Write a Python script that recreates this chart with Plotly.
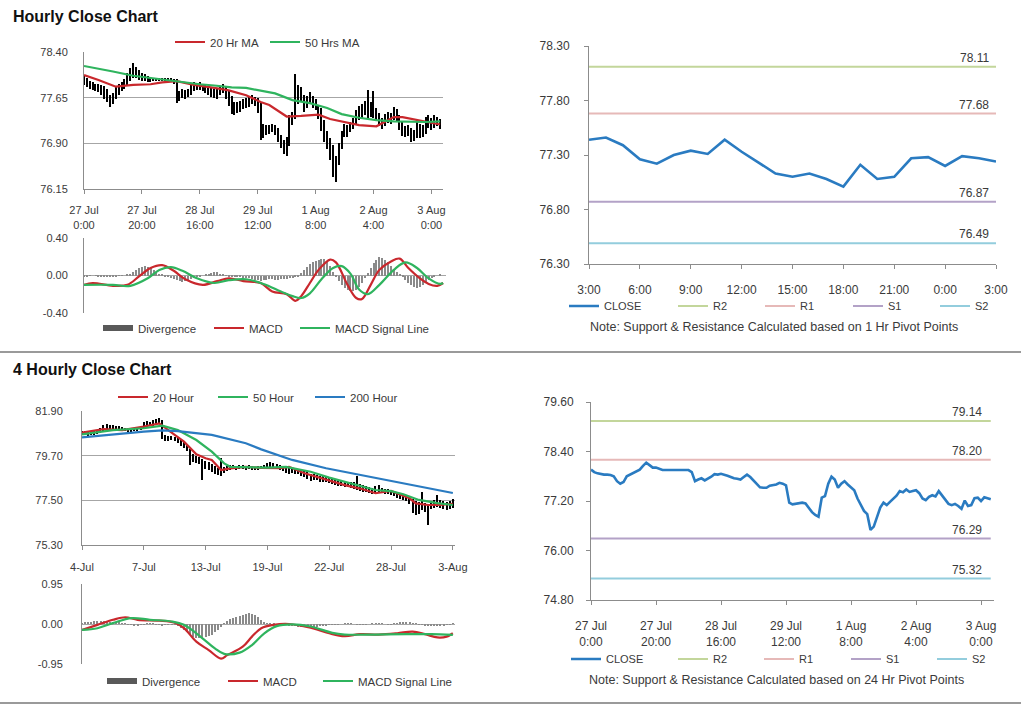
import plotly.graph_objects as go

W, H = 1024, 705
FONT = "Liberation Sans, Arial, sans-serif"

# ------------------------------------------------------------------ data
# hourly bars (27 Jul 0:00 ... 3 Aug 3:00), 124 points
hour_idx = list(range(124))
hourly_close = [
    77.96, 77.90, 77.87, 77.85, 77.84, 77.84, 77.83, 77.80, 77.68, 77.62,
    77.66, 77.80, 77.84, 77.86, 77.91, 77.96, 78.05, 78.13, 78.07, 78.01,
    78.01, 77.98, 77.95, 77.95, 77.95, 77.95, 77.95, 77.95, 77.95, 77.95,
    77.95, 77.90, 77.68, 77.72, 77.75, 77.70, 77.74, 77.79, 77.85, 77.84,
    77.86, 77.84, 77.81, 77.78, 77.75, 77.74, 77.72, 77.78, 77.84, 77.78,
    77.70, 77.62, 77.53, 77.52, 77.52, 77.57, 77.59, 77.60, 77.64, 77.62,
    77.58, 77.16, 77.12, 77.13, 77.14, 77.16, 77.14, 77.02, 76.93, 76.86,
    76.82, 77.28, 77.32, 77.62, 77.79, 77.72, 77.52, 77.62, 77.68, 77.60,
    77.54, 77.46, 77.26, 77.10, 76.96, 76.88, 76.50, 76.58, 76.82, 77.04,
    77.16, 77.10, 77.18, 77.26, 77.33, 77.44, 77.41, 77.48, 77.42, 77.44,
    77.46, 77.39, 77.26, 77.22, 77.30, 77.34, 77.31, 77.44, 77.33, 77.23,
    77.13, 77.10, 77.13, 77.08, 77.01, 77.21, 77.08, 77.10, 77.27, 77.28,
    77.20, 77.29, 77.27, 77.24]
hourly_low = [
    77.85, 77.82, 77.80, 77.78, 77.76, 77.75, 77.70, 77.62, 77.58, 77.50,
    77.55, 77.62, 77.70, 77.76, 77.80, 77.86, 77.92, 77.98, 77.98, 77.94,
    77.93, 77.92, 77.90, 77.91, 77.92, 77.92, 77.92, 77.92, 77.92, 77.92,
    77.92, 77.88, 77.56, 77.60, 77.64, 77.62, 77.66, 77.70, 77.76, 77.78,
    77.78, 77.76, 77.72, 77.70, 77.66, 77.64, 77.62, 77.70, 77.72, 77.62,
    77.52, 77.38, 77.36, 77.40, 77.42, 77.46, 77.48, 77.50, 77.54, 77.52,
    77.40, 76.95, 76.98, 77.04, 77.06, 77.08, 77.04, 76.92, 76.82, 76.72,
    76.70, 76.85, 77.20, 77.30, 77.55, 77.58, 77.42, 77.48, 77.55, 77.48,
    77.44, 77.30, 77.10, 76.92, 76.80, 76.62, 76.35, 76.27, 76.55, 76.80,
    77.00, 77.00, 77.08, 77.14, 77.20, 77.28, 77.30, 77.36, 77.30, 77.34,
    77.32, 77.26, 77.18, 77.14, 77.18, 77.24, 77.22, 77.28, 77.26, 77.12,
    77.02, 77.00, 77.02, 76.92, 76.94, 76.98, 76.98, 77.00, 77.06, 77.16,
    77.12, 77.16, 77.18, 77.14]
hourly_high = [
    78.00, 77.97, 77.92, 77.90, 77.88, 77.88, 77.86, 77.84, 77.80, 77.70,
    77.72, 77.84, 77.88, 77.90, 77.96, 78.05, 78.14, 78.22, 78.16, 78.10,
    78.06, 78.04, 78.00, 77.98, 77.98, 77.98, 77.98, 77.98, 77.98, 77.98,
    77.98, 77.96, 77.95, 77.76, 77.80, 77.78, 77.80, 77.88, 77.90, 77.88,
    77.90, 77.88, 77.86, 77.84, 77.82, 77.80, 77.80, 77.84, 77.88, 77.84,
    77.76, 77.68, 77.58, 77.58, 77.60, 77.62, 77.64, 77.68, 77.70, 77.66,
    77.64, 77.58, 77.22, 77.20, 77.20, 77.22, 77.20, 77.16, 77.04, 76.96,
    77.00, 77.36, 77.42, 78.04, 77.86, 77.82, 77.70, 77.68, 77.74, 77.68,
    77.62, 77.52, 77.48, 77.28, 77.10, 76.98, 76.88, 76.70, 76.90, 77.10,
    77.22, 77.20, 77.25, 77.32, 77.44, 77.52, 77.55, 77.60, 77.78, 77.58,
    77.76, 77.48, 77.40, 77.32, 77.38, 77.42, 77.40, 77.50, 77.46, 77.36,
    77.26, 77.18, 77.20, 77.16, 77.12, 77.28, 77.22, 77.20, 77.34, 77.36,
    77.32, 77.36, 77.34, 77.30]
hourly_tick_idx = [0, 20, 40, 60, 80, 100, 120]
hourly_tick_text = ["27 Jul<br>0:00", "27 Jul<br>20:00", "28 Jul<br>16:00", "29 Jul<br>12:00",
                    "1 Aug<br>8:00", "2 Aug<br>4:00", "3 Aug<br>0:00"]

ma20_h_x = [0, 5, 11, 15, 17, 23, 27, 32, 38, 45, 50, 56, 61, 64, 68, 70, 75, 81, 85, 90, 95, 101, 104, 107, 110, 114, 118, 123]
ma20_h = [78.02, 77.94, 77.83, 77.85, 77.86, 77.87, 77.90, 77.92, 77.86, 77.81, 77.77, 77.69, 77.58, 77.53, 77.40, 77.34,
          77.35, 77.37, 77.30, 77.25, 77.20, 77.18, 77.25, 77.33, 77.33, 77.29, 77.25, 77.21]
ma50_h_x = [0, 6, 10, 17, 22, 28, 34, 40, 45, 51, 56, 61, 66, 72, 78, 84, 89, 95, 101, 107, 112, 118, 123]
ma50_h = [78.17, 78.12, 78.08, 78.01, 77.98, 77.94, 77.90, 77.87, 77.85, 77.82, 77.81, 77.77, 77.72, 77.61, 77.56,
          77.48, 77.38, 77.32, 77.28, 77.26, 77.25, 77.25, 77.26]

macd_h_x = [0, 3, 10, 15, 19, 23, 27, 31, 35, 41, 46, 50, 55, 61, 65, 70, 73, 75, 78, 81, 85, 87, 91, 94, 96, 99,
            102, 106, 109, 112, 116, 119, 122, 124]
macd_h = [-0.10, -0.08, -0.11, -0.10, -0.01, 0.08, 0.11, 0.05, -0.04, -0.10, -0.06, -0.03, -0.06, -0.08, -0.17,
          -0.20, -0.27, -0.22, -0.08, 0.06, 0.17, 0.14, -0.10, -0.24, -0.25, -0.10, 0.06, 0.15, 0.18, 0.08, -0.03,
          -0.09, -0.11, -0.08]
signal_h_x = [0, 10, 16, 22, 26, 30, 34, 39, 45, 50, 56, 62, 68, 72, 75, 78, 82, 86, 89, 92, 95, 98, 102, 107, 111,
              115, 119, 123, 124]
signal_h = [-0.10, -0.10, -0.11, -0.03, 0.06, 0.09, 0.05, -0.03, -0.08, -0.05, -0.04, -0.09, -0.17, -0.22, -0.24,
            -0.19, -0.04, 0.08, 0.10, 0.02, -0.15, -0.20, -0.10, 0.06, 0.14, 0.08, -0.03, -0.09, -0.08]
divergence_h = [
    -0.01, -0.01, -0.005, 0.0, -0.005, -0.01, -0.01, -0.01, -0.01, -0.015, -0.01, -0.01, -0.005, -0.005, 0.0,
    0.01, 0.02, 0.04, 0.06, 0.08, 0.09, 0.10, 0.09, 0.08, 0.06, 0.04, 0.02, 0.01,
    -0.01, -0.02, -0.03, -0.04, -0.05, -0.06, -0.065, -0.06, -0.05, -0.04, -0.03, -0.02, -0.01, 0.0,
    0.01, 0.02, 0.03, 0.04, 0.035, 0.02, 0.01,
    -0.005, -0.01, -0.01, -0.015, -0.02, -0.02, -0.025, -0.03, -0.03, -0.04, -0.05, -0.05, -0.06, -0.05, -0.05,
    -0.04, -0.04, -0.05, -0.05, -0.04, -0.04, -0.035, -0.03, -0.03, -0.02, -0.01,
    0.03, 0.06, 0.09, 0.12, 0.14, 0.16, 0.17, 0.18, 0.18, 0.16, 0.10, 0.04,
    -0.02, -0.06, -0.10, -0.13, -0.15, -0.17, -0.17, -0.15, -0.12, -0.08, -0.03,
    0.03, 0.08, 0.13, 0.17, 0.20, 0.19, 0.17, 0.14, 0.10, 0.07, 0.04, 0.01,
    -0.02, -0.05, -0.08, -0.10, -0.12, -0.13, -0.12, -0.10, -0.08, -0.05, -0.03, -0.01, 0.0, 0.01]

# last 25 hourly closes (3:00 ... 3:00) and pivot levels
day_tick_idx = [0, 3, 6, 9, 12, 15, 18, 21, 24]
day_tick_text = ["3:00", "6:00", "9:00", "12:00", "15:00", "18:00", "21:00", "0:00", "3:00"]
level_names = ["R2", "R1", "S1", "S2"]
levels_1h = [78.11, 77.68, 76.87, 76.49]
levels_24h = [79.14, 78.20, 76.29, 75.32]

# 4-hourly bars (4-Jul ... 3-Aug), 121 points
four_idx = list(range(121))
four_low = [
    80.70, 80.72, 80.68, 80.70, 80.74, 80.78, 80.82, 80.90, 80.95, 81.00,
    80.98, 80.95, 80.96, 80.92, 80.90, 80.88, 80.85, 80.90, 80.92, 80.95,
    81.05, 81.10, 81.15, 81.18, 81.20, 81.25, 80.50, 80.40, 80.42, 80.45,
    80.40, 80.30, 80.20, 80.10, 79.95, 79.24, 79.40, 79.35, 79.30, 78.50,
    79.05, 79.00, 78.90, 78.80, 78.75, 78.70, 78.85, 78.95, 79.00, 79.02,
    79.00, 79.05, 79.02, 79.00, 79.05, 79.00, 78.98, 79.00, 79.02, 79.05,
    79.10, 79.12, 79.10, 79.08, 79.00, 78.95, 78.85, 78.80, 78.85, 78.82,
    78.78, 78.70, 78.65, 78.55, 78.45, 78.50, 78.48, 78.42, 78.40, 78.38,
    78.35, 78.30, 78.25, 78.22, 78.20, 78.18, 78.15, 78.10, 78.05, 78.00,
    77.95, 77.92, 77.90, 77.85, 77.82, 77.88, 77.90, 77.85, 77.80, 77.82,
    77.78, 77.70, 77.60, 77.55, 77.50, 77.45, 77.30, 76.90, 76.80, 76.85,
    77.00, 76.95, 76.28, 77.05, 77.10, 77.15, 77.10, 77.05, 77.00, 77.05,
    77.10]
four_high = [
    80.90, 80.92, 80.88, 80.86, 80.95, 80.98, 81.05, 81.20, 81.25, 81.22,
    81.20, 81.18, 81.15, 81.10, 81.08, 81.05, 81.04, 81.06, 81.08, 81.15,
    81.35, 81.40, 81.38, 81.45, 81.50, 81.55, 81.48, 80.70, 80.65, 80.66,
    80.62, 80.58, 80.45, 80.35, 80.25, 80.05, 79.80, 79.70, 79.65, 79.55,
    79.45, 79.40, 79.30, 79.20, 79.10, 79.60, 79.15, 79.20, 79.22, 79.25,
    79.20, 79.25, 79.22, 79.20, 79.22, 79.18, 79.16, 79.18, 79.20, 79.22,
    79.32, 79.38, 79.36, 79.30, 79.25, 79.20, 79.15, 79.10, 79.08, 79.05,
    79.00, 78.98, 78.95, 78.90, 78.80, 78.78, 78.75, 78.70, 78.68, 78.65,
    78.62, 78.58, 78.55, 78.50, 78.48, 78.45, 78.42, 78.40, 78.38, 78.70,
    78.30, 78.25, 78.20, 78.15, 78.10, 78.20, 78.25, 78.12, 78.05, 78.08,
    78.02, 77.95, 77.90, 77.85, 77.82, 77.75, 77.70, 77.55, 77.45, 77.40,
    77.90, 77.35, 77.30, 77.45, 77.50, 77.75, 77.50, 77.45, 77.40, 77.45,
    77.55]
four_tick_idx = [0, 20, 40, 60, 80, 100, 120]
four_tick_text = ["4-Jul", "7-Jul", "13-Jul", "19-Jul", "22-Jul", "28-Jul", "3-Aug"]

ma20_4h_x = [0, 7, 13, 20, 25, 27, 30, 33, 37, 40, 42, 45, 48, 53, 58, 64, 67, 72, 78, 85, 90, 95, 100, 103, 106,
             108, 112, 116, 120]
ma20_4h = [80.83, 81.01, 80.96, 81.13, 81.29, 81.05, 80.72, 80.39, 79.77, 79.57, 79.49, 78.99, 79.07, 79.15, 79.10,
           79.08, 79.15, 78.83, 78.58, 78.25, 78.08, 77.85, 77.96, 77.76, 77.60, 77.35, 77.27, 77.27, 77.33]
ma50_4h_x = [0, 10, 20, 26, 31, 37, 42, 46, 48, 60, 66, 74, 80, 85, 90, 95, 100, 104, 109, 115, 120]
ma50_4h = [80.75, 80.96, 81.05, 81.18, 80.96, 80.47, 79.90, 79.32, 79.15, 79.11, 79.15, 78.91, 78.62, 78.42, 78.21,
           78.01, 77.95, 77.80, 77.52, 77.36, 77.27]
ma200_4h_x = [0, 10, 20, 26, 31, 42, 53, 58, 68, 79, 90, 101, 112, 120]
ma200_4h = [80.60, 80.75, 80.88, 80.95, 80.91, 80.72, 80.31, 80.01, 79.49, 79.08, 78.75, 78.45, 78.12, 77.86]

macd_4h_x = [0, 5, 10, 14, 18, 25, 30, 33, 37, 41, 45, 47, 52, 55, 58, 62, 67, 72, 76, 80, 85, 90, 96, 102, 107,
             111, 115, 118, 120]
macd_4h = [-0.14, -0.02, 0.10, 0.16, 0.10, 0.08, 0.03, -0.10, -0.42, -0.62, -0.82, -0.74, -0.54, -0.30, -0.10, -0.02,
           0.00, -0.06, -0.13, -0.22, -0.29, -0.24, -0.25, -0.22, -0.18, -0.24, -0.32, -0.30, -0.22]
signal_4h_x = [0, 5, 10, 16, 22, 29, 33, 39, 43, 46, 51, 55, 59, 63, 68, 74, 81, 85, 95, 105, 113, 120]
signal_4h = [-0.14, -0.10, 0.02, 0.14, 0.10, 0.06, -0.02, -0.34, -0.58, -0.71, -0.68, -0.50, -0.22, -0.05, -0.01,
             -0.06, -0.21, -0.25, -0.25, -0.24, -0.24, -0.26]
divergence_4h = [
    0.02, 0.03, 0.04, 0.05, 0.06, 0.06, 0.07, 0.07, 0.06, 0.05, 0.05, 0.04, 0.03, 0.02, 0.01,
    -0.01, -0.02, -0.03, -0.03, -0.02, -0.01, 0.01, 0.02, 0.01, -0.01, -0.02, -0.03, -0.02, -0.01, -0.01, -0.02, -0.05,
    -0.10, -0.15, -0.20, -0.25, -0.30, -0.33, -0.34, -0.33, -0.30, -0.28, -0.25, -0.20, -0.14, -0.08,
    0.02, 0.07, 0.11, 0.14, 0.17, 0.19, 0.21, 0.23, 0.25, 0.24, 0.21, 0.16, 0.10, 0.05, 0.02,
    0.01, 0.01, 0.0, -0.01, -0.01, -0.02, -0.03, -0.04, -0.05, -0.06, -0.07, -0.07, -0.08, -0.08, -0.07, -0.06,
    -0.05, -0.04, -0.03, -0.02,
    -0.02, -0.01, -0.01, 0.0, 0.01, 0.01, 0.01, 0.0, -0.01, -0.01,
    -0.02, -0.01, 0.0, 0.01, 0.02, 0.02, 0.01, 0.0, -0.01, -0.01,
    0.01, 0.02, 0.03, 0.03, 0.04, 0.03, 0.02, 0.01, -0.01, -0.02,
    -0.03, -0.04, -0.04, -0.05, -0.05, -0.04, -0.03, -0.02, -0.01, 0.02]

# ------------------------------------------------------------------ styles
RED = "#c9282d"
GREEN = "#2fb45e"
BLUE = "#2a7bc1"
BLACK = "#000000"
DIV_GRAY = "#8a8a8a"
LEVEL_COLORS = ["#c3d69b", "#e6b9b8", "#b3a2c7", "#93cddd"]
GRID = "#a6a6a6"
AXL = "#8c8c8c"
TXT = "#3a3a3a"


def dom_x(a, b):
    return [a / W, b / W]


def dom_y(top, bottom):
    return [1 - bottom / H, 1 - top / H]


fig = go.Figure()
legends = {}


def legend_key(text_left_px, center_y_px, size):
    """Each legend entry gets its own small legend so it sits where the original one does."""
    key = "legend" if not legends else f"legend{len(legends) + 1}"
    legends[key] = dict(orientation="h", x=(text_left_px - 40) / W, y=1 - center_y_px / H, xanchor="left",
                        yanchor="middle", bgcolor="rgba(0,0,0,0)", borderwidth=0,
                        font=dict(family=FONT, size=size, color=TXT), itemwidth=30,
                        itemclick=False, itemdoubleclick=False)
    return key


def line(x, y, name, color, width, xa, ya, leg_pos, shape="linear", leg_size=11.5):
    fig.add_trace(go.Scatter(x=x, y=y, mode="lines", name=name, line=dict(color=color, width=width, shape=shape),
                             xaxis=xa, yaxis=ya, legend=legend_key(*leg_pos, leg_size), hoverinfo="skip"))


def hl_bars(x, low, high, xa, ya):
    fig.add_trace(go.Bar(x=x, y=[h - l for h, l in zip(high, low)], base=low, width=0.42,
                         marker=dict(color=BLACK, line=dict(width=0)), showlegend=False,
                         hoverinfo="skip", xaxis=xa, yaxis=ya))


def div_bars(x, y, xa, ya, leg_pos):
    fig.add_trace(go.Bar(x=x, y=y, width=0.35, marker=dict(color=DIV_GRAY, line=dict(width=0)),
                         showlegend=False, hoverinfo="skip", xaxis=xa, yaxis=ya))
    fig.add_trace(go.Scatter(x=[None], y=[None], mode="lines", name="Divergence",
                             line=dict(color="#595959", width=6), xaxis=xa, yaxis=ya,
                             legend=legend_key(*leg_pos, 11.5)))


# ---- 1. Hourly price (x, y)
hl_bars(hour_idx, hourly_low, hourly_high, "x", "y")
line(ma20_h_x, ma20_h, "20 Hr MA", RED, 2.2, "x", "y", (210, 42))
line(ma50_h_x, ma50_h, "50 Hrs MA", GREEN, 2.2, "x", "y", (305, 42))

# ---- 2. Hourly MACD (x2, y2)
div_bars(hour_idx, divergence_h, "x2", "y2", (138, 328))
line(macd_h_x, macd_h, "MACD", RED, 2.2, "x2", "y2", (249, 328), "spline")
line(signal_h_x, signal_h, "MACD Signal Line", GREEN, 2.2, "x2", "y2", (335, 328), "spline")

# ---- 3. Last day close with 1 Hr pivots (x3, y3)
day_close = hourly_close[-25:]
day_idx = list(range(len(day_close)))
line(day_idx, day_close, "CLOSE", BLUE, 2.6, "x3", "y3", (604, 306), leg_size=11)
for name, lvl, col, tx in zip(level_names, levels_1h, LEVEL_COLORS, [713, 800, 888, 975]):
    line([day_idx[0], day_idx[-1]], [lvl, lvl], name, col, 2, "x3", "y3", (tx, 306), leg_size=11)

# ---- 4. 4-hourly price (x4, y4)
hl_bars(four_idx, four_low, four_high, "x4", "y4")
line(ma20_4h_x, ma20_4h, "20 Hour", RED, 2.2, "x4", "y4", (153, 397))
line(ma50_4h_x, ma50_4h, "50 Hour", GREEN, 2.2, "x4", "y4", (253, 397))
line(ma200_4h_x, ma200_4h, "200 Hour", BLUE, 2.2, "x4", "y4", (350, 397))

# ---- 5. 4-hourly MACD (x5, y5)
div_bars(four_idx, divergence_4h, "x5", "y5", (142, 681))
line(macd_4h_x, macd_4h, "MACD", RED, 2.2, "x5", "y5", (263, 681), "spline")
line(signal_4h_x, signal_4h, "MACD Signal Line", GREEN, 2.2, "x5", "y5", (358, 681), "spline")

# ---- 6. Hourly close with 24 Hr pivots (x6, y6)
line(hour_idx, hourly_close, "CLOSE", BLUE, 2.6, "x6", "y6", (606, 659), leg_size=11)
for name, lvl, col, tx in zip(level_names, levels_24h, LEVEL_COLORS, [713, 799, 886, 972]):
    line([hour_idx[0], hour_idx[-1]], [lvl, lvl], name, col, 2, "x6", "y6", (tx, 659), leg_size=11)


# ------------------------------------------------------------------ axes
def xax(domain, rng, anchor, tickvals=None, ticktext=None, size=11, standoff=8, show=True):
    d = dict(domain=domain, range=rng, anchor=anchor, showgrid=False, zeroline=False,
             showline=show, linecolor=AXL, linewidth=1, fixedrange=True)
    if tickvals is not None:
        d.update(tickmode="array", tickvals=tickvals, ticktext=ticktext, ticks="outside", ticklen=4,
                 tickcolor=AXL, tickfont=dict(family=FONT, size=size, color=TXT), ticklabelstandoff=standoff)
    else:
        d.update(showticklabels=False, ticks="")
    return d


def yax(domain, lo, hi, tickvals, anchor, grid=True, size=11, standoff=12, ticks=""):
    return dict(domain=domain, range=[lo - 1e-6, hi + 1e-6], anchor=anchor, tickmode="array", tickvals=tickvals,
                ticktext=[f"{v:.2f}" for v in tickvals],
                showgrid=grid, gridcolor=GRID, gridwidth=1, zeroline=False,
                showline=True, linecolor=AXL, linewidth=1, ticks=ticks, ticklen=4, tickcolor=AXL,
                tickfont=dict(family=FONT, size=size, color=TXT), ticklabelstandoff=standoff, fixedrange=True)


layout = dict(
    width=W, height=H, margin=dict(l=0, r=0, t=0, b=0, autoexpand=False),
    paper_bgcolor="white", plot_bgcolor="white",
    font=dict(family=FONT, size=11, color=TXT),
    bargap=0, showlegend=True,
    xaxis=xax(dom_x(84, 443), [0, 124], "y", hourly_tick_idx, hourly_tick_text, 11, 7),
    yaxis=yax(dom_y(52, 189), 76.15, 78.40, [76.15, 76.90, 77.65, 78.40], "x", standoff=13),
    xaxis2=xax(dom_x(84, 446), [0, 125], "y2", show=False),
    yaxis2=yax(dom_y(238, 313), -0.40, 0.40, [-0.40, 0.0, 0.40], "x2", standoff=13),
    xaxis3=xax(dom_x(589, 996), [0, 24], "y3", day_tick_idx, day_tick_text, 12, 11),
    yaxis3=yax(dom_y(46, 264), 76.30, 78.30, [76.30, 76.80, 77.30, 77.80, 78.30], "x3", grid=False, size=12,
               standoff=12, ticks="outside"),
    xaxis4=xax(dom_x(82, 455), [0, 120.7], "y4", four_tick_idx, four_tick_text, 11, 8),
    yaxis4=yax(dom_y(411, 545), 75.30, 81.90, [75.30, 77.50, 79.70, 81.90], "x4", standoff=16),
    xaxis5=xax(dom_x(82, 455), [0, 120.7], "y5", show=False),
    yaxis5=yax(dom_y(584, 664), -0.95, 0.95, [-0.95, 0.0, 0.95], "x5", standoff=16),
    xaxis6=xax(dom_x(591, 994), [0, 124], "y6", hourly_tick_idx, hourly_tick_text, 12, 11),
    yaxis6=yax(dom_y(402, 600), 74.80, 79.60, [74.80, 76.00, 77.20, 78.40, 79.60], "x6", grid=False, size=12,
               standoff=10, ticks="outside"),
)
layout.update(legends)

annotations = [
    dict(text="<b>Hourly Close Chart</b>", x=11 / W, y=1 - 16 / H, xref="paper", yref="paper",
         xanchor="left", yanchor="middle", showarrow=False, font=dict(family=FONT, size=16, color="#111")),
    dict(text="<b>4 Hourly Close Chart</b>", x=11 / W, y=1 - 369 / H, xref="paper", yref="paper",
         xanchor="left", yanchor="middle", showarrow=False, font=dict(family=FONT, size=16, color="#111")),
    dict(text="Note: Support & Resistance Calculated based on 1 Hr Pivot Points", x=774 / W, y=1 - 327 / H,
         xref="paper", yref="paper", xanchor="center", yanchor="middle", showarrow=False,
         font=dict(family=FONT, size=12.5, color=TXT)),
    dict(text="Note: Support & Resistance Calculated based on 24 Hr Pivot Points", x=776 / W, y=1 - 680 / H,
         xref="paper", yref="paper", xanchor="center", yanchor="middle", showarrow=False,
         font=dict(family=FONT, size=12.5, color=TXT)),
]
for lvl in levels_1h:
    annotations.append(dict(text=f"{lvl:.2f}", x=day_idx[-1], y=lvl, xref="x3", yref="y3", xanchor="right",
                            yanchor="bottom", xshift=-5, yshift=0, showarrow=False,
                            font=dict(family=FONT, size=12, color=TXT)))
for lvl in levels_24h:
    annotations.append(dict(text=f"{lvl:.2f}", x=hour_idx[-1], y=lvl, xref="x6", yref="y6", xanchor="right",
                            yanchor="bottom", xshift=-7, yshift=0, showarrow=False,
                            font=dict(family=FONT, size=12, color=TXT)))
layout["annotations"] = annotations

layout["shapes"] = [
    dict(type="line", xref="paper", yref="paper", x0=0, x1=1021 / W, y0=1 - 352 / H, y1=1 - 352 / H,
         line=dict(color="#9a9a9a", width=2)),
    dict(type="line", xref="paper", yref="paper", x0=0, x1=1021 / W, y0=1 - 703 / H, y1=1 - 703 / H,
         line=dict(color="#9a9a9a", width=2)),
]

fig.update_layout(**layout)
fig.write_html("out.html")
